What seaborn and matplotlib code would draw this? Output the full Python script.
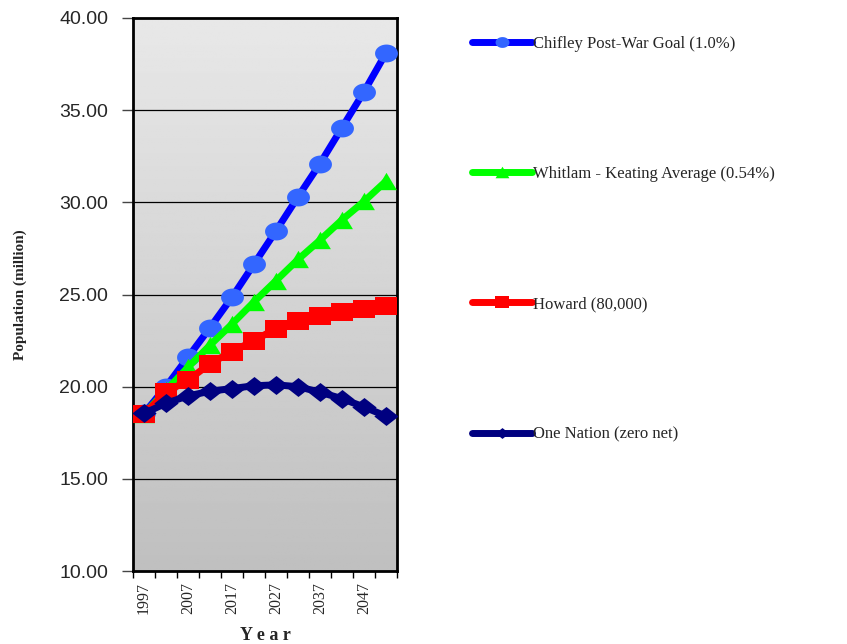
import numpy as np
import pandas as pd
import matplotlib
matplotlib.use("Agg")
import matplotlib.pyplot as plt
from matplotlib.path import Path
import seaborn as sns

# Projected Australian population (million), 5-year steps
years = [1997, 2002, 2007, 2012, 2017, 2022, 2027, 2032, 2037, 2042, 2047, 2052]
chifley = [18.55, 20.0, 21.6, 23.2, 24.85, 26.65, 28.45, 30.3, 32.1, 34.05, 36.0, 38.1]
whitlam_keating = [18.5, 19.8, 21.05, 22.25, 23.4, 24.6, 25.75, 26.9, 27.95, 29.05, 30.05, 31.15]
howard = [18.5, 19.7, 20.35, 21.25, 21.9, 22.5, 23.15, 23.55, 23.85, 24.05, 24.2, 24.35]
one_nation = [18.55, 19.1, 19.5, 19.75, 19.9, 20.05, 20.1, 20.0, 19.7, 19.35, 18.9, 18.4]

labels = ["Chifley Post-War Goal (1.0%)", "Whitlam - Keating Average (0.54%)",
          "Howard (80,000)", "One Nation (zero net)"]
series = [chifley, whitlam_keating, howard, one_nation]
line_colors = ["#0000ff", "#00ff00", "#ff0000", "#000080"]
marker_colors = ["#3366ff", "#00ff00", "#ff0000", "#000080"]

# slightly wide marker shapes (ellipse, triangle, rectangle, diamond)
t = np.linspace(0, 2 * np.pi, 40)
ellipse = Path(np.column_stack([1.28 * np.cos(t), np.sin(t)]), closed=True)
triangle = Path([(0, 1), (-1.2, -1), (1.2, -1), (0, 1)], closed=True)
rect = Path([(-1.22, -1), (1.22, -1), (1.22, 1), (-1.22, 1), (-1.22, -1)], closed=True)
diamond = Path([(0, 1), (1.28, 0), (0, -1), (-1.28, 0), (0, 1)], closed=True)
markers = [ellipse, triangle, rect, diamond]
marker_sizes = [16.5, 15, 16, 17.5]

sns.set_theme(style="white")
plt.rcParams["font.family"] = ["Liberation Sans", "DejaVu Sans"]

fig = plt.figure(figsize=(8.47, 6.44), dpi=100)
ax = fig.add_axes([133 / 847, 1 - 571 / 644, (397 - 133) / 847, (571 - 18) / 644])

# grey gradient background of the plotting area
grad = np.linspace(0.91, 0.75, 256).reshape(-1, 1)
ax.imshow(grad, cmap="gray", vmin=0, vmax=1, aspect="auto",
          extent=[0, 1, 0, 1], transform=ax.transAxes, zorder=0)

idx = np.arange(len(years))
for vals, lab, lc, mc, mk, ms in zip(series, labels, line_colors, marker_colors, markers, marker_sizes):
    df = pd.DataFrame({"idx": idx, "pop": vals})
    sns.lineplot(data=df, x="idx", y="pop", ax=ax, color=lc, linewidth=5,
                 marker=mk, markersize=ms, markerfacecolor=mc,
                 markeredgecolor=mc, markeredgewidth=0, label=lab, zorder=3)

ax.set_xlim(-0.5, len(years) - 0.5)
ax.set_ylim(10, 40)
yt = np.arange(10, 41, 5)
ax.set_yticks(yt)
ax.set_yticklabels([f"{v:.2f}" for v in yt], fontsize=14)
for gy in yt[1:-1]:
    ax.axhline(gy, color="black", linewidth=0.9, zorder=1)

ax.set_xticks(idx[::2])
ax.set_xticklabels([str(y) for y in years[::2]], rotation=90,
                   family="Liberation Serif", fontsize=11.5)
ax.set_xticks(np.arange(-0.5, len(years), 1), minor=True)
ax.tick_params(axis="x", which="major", length=0, pad=8)
ax.tick_params(axis="x", which="minor", length=5, width=1, color="black", bottom=True)
ax.tick_params(axis="y", which="major", length=8, width=1, color="#444444", left=True, pad=10)

for s in ax.spines.values():
    s.set_color("black")
    s.set_linewidth(2)

ax.set_xlabel("Y e a r", family="Liberation Serif", fontweight="bold", fontsize=13, labelpad=9)
ax.set_ylabel("Population (million)", family="Liberation Serif", fontweight="bold",
              fontsize=11)
ax.yaxis.set_label_coords(-(133 - 27) / 264, 0.5)

leg = ax.legend(loc="upper left", bbox_to_anchor=(472 / 847, 1 - 36 / 644),
                bbox_transform=fig.transFigure, frameon=False, borderpad=0,
                borderaxespad=0, handlelength=3.6, handletextpad=0.05,
                labelspacing=6.85, prop={"family": "Liberation Serif", "size": 12})
for line in leg.get_lines():
    line.set_markersize(10)

fig.savefig("out.png", dpi=100)
